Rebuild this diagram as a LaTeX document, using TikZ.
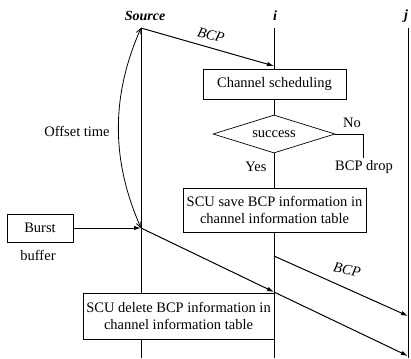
\documentclass[tikz,border=0pt]{standalone}
\usepackage{fontspec}
\setmainfont{Liberation Serif}
\usetikzlibrary{shapes.geometric,arrows.meta}
\begin{document}
\begin{tikzpicture}[x=1pt,y=-1pt,
  every node/.style={font=\fontsize{14.5}{16.5}\selectfont, inner sep=0pt},
  box/.style={draw, line width=0.7pt, align=center},
  vline/.style={line width=0.8pt},
  sig/.style={line width=1pt, -{Latex[length=7pt,width=4.5pt]}},
  lbl/.style={font=\fontsize{14.5}{16.5}\selectfont\itshape}]
\useasboundingbox (0,0) rectangle (411,358);
% time lines
\coordinate (s0) at (141,28);
\coordinate (s1) at (141,228);
\coordinate (s2) at (141,358);
\coordinate (i0) at (274,28);
\coordinate (i1) at (274,66);
\coordinate (i2) at (274,256);
\coordinate (i3) at (274,292);
\coordinate (i4) at (274,358);
\coordinate (j0) at (408,28);
\coordinate (j1) at (408,316);
\coordinate (j2) at (408,356);
\coordinate (j3) at (408,358);
% labels on top
\node[font=\fontsize{14}{16}\selectfont\bfseries\itshape] (src) at (145,16) {Source};
\node[font=\fontsize{14}{16}\selectfont\bfseries\itshape] (ilab) at (275,16) {i};
\node[font=\fontsize{14}{16}\selectfont\bfseries\itshape] (jlab) at (406,16) {j};
% boxes
\node[box, minimum width=143pt, minimum height=30pt] (chan) at (274.5,84) {Channel scheduling};
\node[draw, line width=0.7pt, diamond, aspect=3.2, minimum width=122pt, minimum height=38pt] (dia) at (274,134) {success};
\node[box, minimum width=183pt, minimum height=44pt] (save) at (274.5,210) {SCU save BCP information in\\channel information table};
\node[box, minimum width=66pt, minimum height=28pt] (burst) at (40,228) {Burst};
\node[box, minimum width=191pt, minimum height=46pt] (del) at (178.5,316) {SCU delete BCP information in\\channel information table};
% texts
\node (buf) at (38,255) {buffer};
\node (off) at (77,131) {Offset time};
\node (no) at (352,123) {No};
\node (yes) at (256,167) {Yes};
\node (drop) at (364,167) {BCP drop};
\node[lbl, rotate=-15] (bcp1) at (211,35) {BCP};
\node[lbl, rotate=-12] (bcp2) at (347,270) {BCP};
% source line
\draw[vline] (s0) -- (s0 |- del.north);
\draw[vline] (s0 |- del.south) -- (s2);
% i line
\draw[vline] (i0) -- (chan.north -| i0);
\draw[vline] (chan.south -| i0) -- (dia.north);
\draw[vline] (dia.south) -- (save.north -| i0);
\draw[vline] (save.south -| i0) -- (i4);
% j line
\draw[vline] (j0) -- (j3);
% no branch
\coordinate (nob) at (363,158);
\draw[line width=0.7pt] (dia.east) -- (nob |- dia.east) -- (nob);
% signals
\draw[sig] (s0) -- (i1);
\draw[sig] (burst.east) -- (s1);
\draw[sig] (s1) -- (i3);
\draw[sig] (i3) -- (j2);
\draw[sig] (i2) -- (j1);
% offset time
\draw[line width=0.8pt, {Straight Barb[length=5pt,width=5pt]}-{Straight Barb[length=5pt,width=5pt]}]
  (s1) .. controls (111,160) and (111,96) .. (s0);
\end{tikzpicture}
\end{document}
